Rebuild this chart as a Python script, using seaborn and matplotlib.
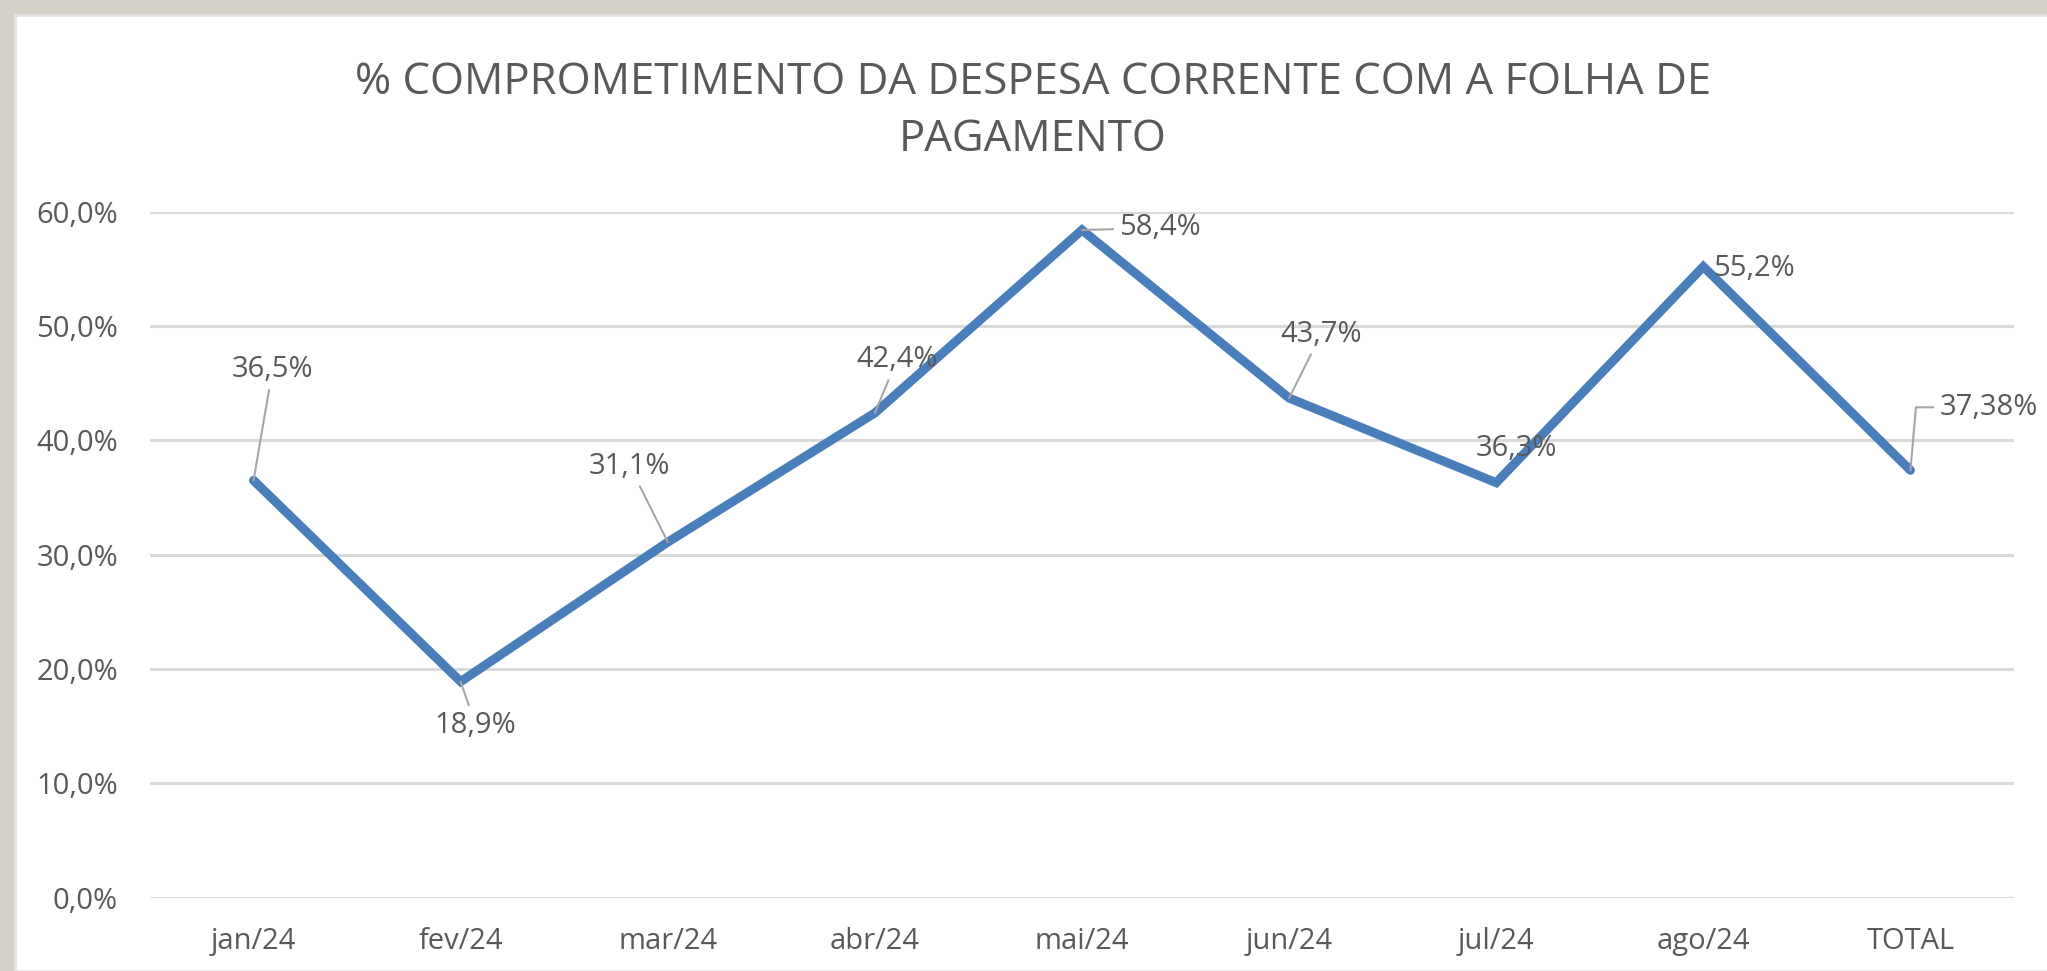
import matplotlib
matplotlib.use("Agg")
import matplotlib.pyplot as plt
import seaborn as sns
import pandas as pd
from matplotlib.patches import Rectangle

# ---- data ----
categories = ["jan/24", "fev/24", "mar/24", "abr/24", "mai/24", "jun/24", "jul/24", "ago/24", "TOTAL"]
values = [36.5, 18.9, 31.1, 42.4, 58.4, 43.7, 36.3, 55.2, 37.38]
decimals = [1, 1, 1, 1, 1, 1, 1, 1, 2]
yticks = [0, 10, 20, 30, 40, 50, 60]
title = "% COMPROMETIMENTO DA DESPESA CORRENTE COM A FOLHA DE\nPAGAMENTO"

# label offsets in pixels (dx, dy) and whether a leader line is drawn
label_offsets = [(19, 111), (15, -44), (-38, 76), (22, 53), (78, 2), (32, 64), (20, 34), (51, -2), (78, 63)]
leaders = [True, True, True, True, True, True, False, False, True]

sns.set_style("white")
plt.rcParams["font.family"] = ["Open Sans", "DejaVu Sans"]

W, H = 2047, 971
fig = plt.figure(figsize=(W / 100, H / 100), dpi=100)
fig.patch.set_facecolor("#d5d0c8")
fig.patches.append(Rectangle((15 / W, 0), 1, 1 - 15 / H, transform=fig.transFigure,
                             facecolor="white", edgecolor="#e4e4e4", linewidth=2, zorder=-1))

ax = fig.add_axes([150 / W, (H - 897.7) / H, (2014 - 150) / W, (897.7 - 211.7) / H])
ax.set_facecolor("none")

df = pd.DataFrame({"cat": categories, "val": values})
sns.lineplot(data=df, x="cat", y="val", sort=False, ax=ax, color="#4a7ebb",
             linewidth=6.5, solid_joinstyle="miter", solid_capstyle="round", clip_on=False, zorder=3)

ax.set_xlim(-0.5, len(categories) - 0.5)
ax.set_ylim(0, 60)
ax.set_yticks(yticks)
ax.set_yticklabels([f"{v:.1f}".replace(".", ",") + "%" for v in yticks])
ax.yaxis.grid(True, color="#d9d9d9", linewidth=2.2)
ax.xaxis.grid(False)
for s in ax.spines.values():
    s.set_visible(False)
ax.tick_params(axis="y", length=0, pad=23, labelsize=21, labelcolor="#595959")
ax.tick_params(axis="x", length=0, pad=21, labelsize=21, labelcolor="#595959")
ax.set_xlabel("")
ax.set_ylabel("")

for i, (v, d) in enumerate(zip(values, decimals)):
    txt = f"{v:.{d}f}".replace(".", ",") + "%"
    dx, dy = label_offsets[i]
    ap = None
    if leaders[i]:
        cs = "angle,angleA=0,angleB=85,rad=0" if i == len(values) - 1 else "arc3"
        ap = dict(arrowstyle="-", color="#a6a6a6", linewidth=1.5, shrinkA=2, shrinkB=0,
                  connectionstyle=cs)
    ax.annotate(txt, xy=(i, v), xytext=(dx, dy), textcoords="offset pixels",
                ha="center", va="center", fontsize=21, color="#595959",
                arrowprops=ap, annotation_clip=False, zorder=4)

fig.text(1033 / W, (H - 111) / H, title, ha="center", va="center", fontsize=31.5,
         color="#595959", linespacing=1.37)

fig.savefig("out.png", dpi=100, facecolor=fig.get_facecolor())
